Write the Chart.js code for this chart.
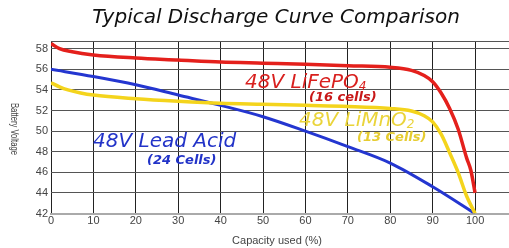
<!DOCTYPE html>
<html>
<head>
<meta charset="utf-8">
<script src="https://cdn.jsdelivr.net/npm/chart.js@4"></script>
<style>
  html, body { margin: 0; padding: 0; background: #fff; }
  #wrap { width: 509px; height: 248px; position: relative; }
</style>
</head>
<body>
<div id="wrap"><canvas id="grafico"></canvas></div>
<script>
// capacity used (%) and voltage
const lifepoX = [0, 2, 5, 10, 20, 30, 40, 50, 60, 70, 80, 85, 88, 90, 92, 94, 96, 98, 99, 100];
const lifepoV = [58.5, 58.0, 57.7, 57.4, 57.1, 56.9, 56.7, 56.6, 56.5, 56.35, 56.2, 55.9, 55.4, 54.8, 53.7, 52.2, 50.2, 47.4, 46.2, 44.0];

const limnoX = [0, 2, 4, 7, 10, 20, 30, 40, 50, 60, 70, 80, 85, 88, 90, 92, 94, 96, 98, 100];
const limnoV = [54.7, 54.3, 54.0, 53.7, 53.5, 53.15, 52.9, 52.7, 52.6, 52.5, 52.4, 52.2, 51.95, 51.5, 50.9, 49.7, 47.9, 46.0, 43.7, 42.0];

const leadX = [0, 10, 20, 30, 40, 50, 60, 70, 80, 90, 100];
const leadV = [56.0, 55.3, 54.5, 53.5, 52.5, 51.4, 50.0, 48.5, 46.9, 44.6, 42.0];

const xTicks = [0, 10, 20, 30, 40, 50, 60, 70, 80, 90, 100];
const yTicks = [42, 44, 46, 48, 50, 52, 54, 56, 58];

const toPoints = (xs, ys) => xs.map((x, i) => ({ x: x, y: ys[i] }));

// texto escrito no gráfico
const textPlugin = {
    id: 'textos',
    afterDraw(chart) {
        const ctx = chart.ctx;
        const write = (txt, x, y, font, color, width, align) => {
            ctx.font = font;
            ctx.fillStyle = color;
            ctx.textAlign = align || 'left';
            ctx.textBaseline = 'middle';
            ctx.fillText(txt, x, y, width);
            return Math.min(ctx.measureText(txt).width, width || 1e9);
        };
        ctx.save();
        write('Typical Discharge Curve Comparison', 276, 18, 'italic 20px "DejaVu Sans"', '#111', 372, 'center');

        // LiFePO4
        let w = write('48V LiFePO', 245, 83, 'italic 20px "DejaVu Sans"', '#d8201e', 124);
        write('4', 245 + w, 87, 'italic 12px "DejaVu Sans"', '#d8201e', 10);
        write('(16 cells)', 309, 98, 'italic bold 13px "DejaVu Sans"', '#c81818', 69);

        // LiMnO2
        w = write('48V LiMnO', 299, 121, 'italic 20px "DejaVu Sans"', '#ead43a', 121);
        write('2', 299 + w, 125, 'italic 12px "DejaVu Sans"', '#ead43a', 10);
        write('(13 Cells)', 357, 138, 'italic bold 13px "DejaVu Sans"', '#e6cc30', 73);

        // Lead acid
        write('48V Lead Acid', 93, 142, 'italic 20px "DejaVu Sans"', '#2233c8', 152);
        write('(24 Cells)', 147, 161, 'italic bold 13px "DejaVu Sans"', '#2233c8', 73);

        // eixo y, lido de cima para baixo
        ctx.translate(14, 129);
        ctx.rotate(Math.PI / 2);
        write('Battery Voltage', 0, 0, '10px "Liberation Sans"', '#444', 52, 'center');
        ctx.restore();

        ctx.save();
        write('Capacity used (%)', 277, 241, '11px "Liberation Sans"', '#444', 93, 'center');
        ctx.restore();
    }
};

new Chart(document.getElementById('grafico'), {
    type: 'line',
    data: {
        datasets: [
            {
                label: '48V LiFePO4',
                data: toPoints(lifepoX, lifepoV),
                borderColor: '#e4201c',
                borderWidth: 3.5,
                pointRadius: 0,
                cubicInterpolationMode: 'monotone'
            },
            {
                label: '48V LiMnO2',
                data: toPoints(limnoX, limnoV),
                borderColor: '#f4d41c',
                borderWidth: 3.5,
                pointRadius: 0,
                cubicInterpolationMode: 'monotone'
            },
            {
                label: '48V Lead Acid',
                data: toPoints(leadX, leadV),
                borderColor: '#2436d0',
                borderWidth: 3,
                pointRadius: 0,
                cubicInterpolationMode: 'monotone'
            }
        ]
    },
    options: {
        responsive: true,
        maintainAspectRatio: false,
        animation: false,
        layout: { padding: { top: 41, right: 0, left: 0, bottom: 0 } },
        plugins: {
            legend: { display: false },
            tooltip: { enabled: false }
        },
        scales: {
            x: {
                type: 'linear',
                min: 0,
                max: 108,
                afterFit: (scale) => { scale.height = 34.5; },
                afterBuildTicks: (scale) => {
                    scale.ticks = xTicks.map(v => ({ value: v }));
                },
                ticks: {
                    color: '#444',
                    font: { family: 'Liberation Sans', size: 11 },
                    padding: 1,
                    maxRotation: 0,
                    callback: (v) => String(v)
                },
                grid: {
                    color: '#222',
                    lineWidth: 1,
                    drawTicks: false
                },
                border: { color: '#aaa', width: 2 }
            },
            y: {
                min: 42,
                max: 58.75,
                afterFit: (scale) => { scale.width = 51; },
                afterBuildTicks: (scale) => {
                    scale.ticks = yTicks.map(v => ({ value: v })).concat([{ value: 58.75 }]);
                },
                ticks: {
                    color: '#444',
                    font: { family: 'Liberation Sans', size: 11 },
                    padding: 3,
                    callback: (v) => (v === 58.75 ? '' : String(v))
                },
                grid: {
                    color: (c) => (c.tick && c.tick.value === 42 ? '#aaa' : '#555'),
                    lineWidth: (c) => (c.tick && c.tick.value === 42 ? 2 : 1),
                    drawTicks: false
                },
                border: { display: false }
            }
        }
    },
    plugins: [textPlugin]
});
</script>
</body>
</html>
